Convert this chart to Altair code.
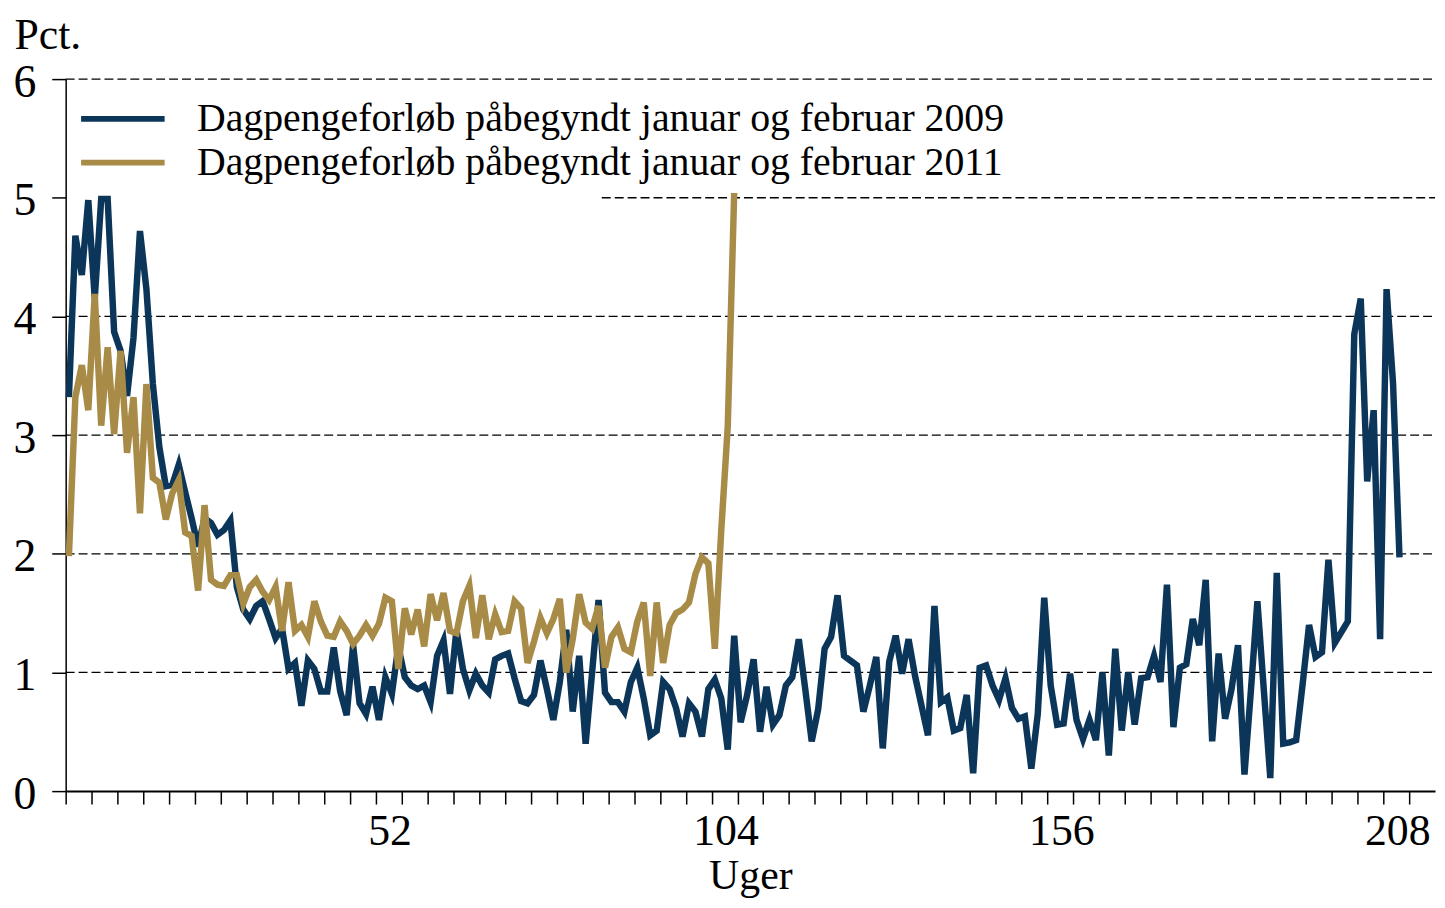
import altair as alt
import pandas as pd

# ---- data (weekly percentages) ----
pct_2009 = [
    3.32, 4.68, 4.35, 4.98, 4.15, 4.99, 4.99, 3.87, 3.71, 3.33,
    3.82, 4.72, 4.23, 3.43, 2.90, 2.57, 2.58, 2.75, 2.52, 2.30,
    2.06, 2.30, 2.26, 2.16, 2.20, 2.28, 1.72, 1.53, 1.45, 1.56,
    1.60, 1.45, 1.29, 1.37, 1.03, 1.08, 0.72, 1.10, 1.03, 0.84,
    0.84, 1.21, 0.84, 0.64, 1.23, 0.74, 0.65, 0.88, 0.60, 0.96,
    0.82, 1.22, 0.96, 0.89, 0.86, 0.89, 0.75, 1.14, 1.27, 0.82,
    1.36, 1.03, 0.85, 0.99, 0.89, 0.83, 1.11, 1.14, 1.16, 0.95,
    0.76, 0.74, 0.81, 1.10, 0.86, 0.60, 0.92, 1.36, 0.67, 1.14,
    0.40, 1.00, 1.61, 0.83, 0.75, 0.75, 0.67, 0.92, 1.04, 0.78,
    0.47, 0.51, 0.92, 0.86, 0.70, 0.46, 0.74, 0.67, 0.46, 0.86,
    0.94, 0.78, 0.35, 1.31, 0.58, 0.81, 1.11, 0.50, 0.88, 0.56,
    0.64, 0.89, 0.96, 1.28, 0.86, 0.42, 0.69, 1.20, 1.30, 1.65,
    1.14, 1.10, 1.06, 0.67, 0.89, 1.13, 0.36, 1.09, 1.31, 0.99,
    1.28, 0.97, 0.72, 0.47, 1.56, 0.75, 0.79, 0.51, 0.53, 0.81,
    0.15, 1.04, 1.06, 0.89, 0.77, 0.95, 0.70, 0.61, 0.63, 0.19,
    0.65, 1.63, 0.89, 0.56, 0.57, 0.99, 0.60, 0.44, 0.60, 0.43,
    1.00, 0.30, 1.20, 0.51, 1.00, 0.56, 0.95, 0.96, 1.14, 0.92,
    1.74, 0.54, 1.04, 1.07, 1.45, 1.23, 1.78, 0.42, 1.16, 0.61,
    0.86, 1.23, 0.14, 0.85, 1.60, 0.85, 0.11, 1.84, 0.40, 0.41,
    0.43, 0.90, 1.40, 1.13, 1.17, 1.95, 1.25, 1.34, 1.43, 3.85,
    4.15, 2.61, 3.21, 1.28, 4.23, 3.44, 1.97,
]
pct_2011 = [
    1.98, 3.32, 3.59, 3.21, 4.19, 3.08, 3.74, 3.01, 3.71, 2.85,
    3.32, 2.34, 3.43, 2.64, 2.60, 2.29, 2.51, 2.62, 2.18, 2.15,
    1.69, 2.41, 1.78, 1.74, 1.73, 1.82, 1.82, 1.58, 1.72, 1.78,
    1.68, 1.61, 1.72, 1.35, 1.76, 1.35, 1.40, 1.30, 1.60, 1.43,
    1.31, 1.30, 1.43, 1.35, 1.24, 1.31, 1.40, 1.31, 1.41, 1.63,
    1.60, 1.03, 1.54, 1.32, 1.53, 1.22, 1.66, 1.44, 1.67, 1.35,
    1.33, 1.60, 1.73, 1.29, 1.65, 1.28, 1.49, 1.34, 1.35, 1.60,
    1.54, 1.08, 1.26, 1.46, 1.33, 1.45, 1.62, 1.00, 1.28, 1.66,
    1.42, 1.37, 1.56, 1.04, 1.30, 1.38, 1.20, 1.17, 1.43, 1.59,
    0.97, 1.59, 1.08, 1.40, 1.50, 1.53, 1.59, 1.83, 1.97, 1.92,
    1.20, 2.20, 3.07, 5.04,
]
weeks_2009 = list(range(1, len(pct_2009) + 1))
weeks_2011 = list(range(1, len(pct_2011) + 1))

label_2009 = "Dagpengeforløb påbegyndt januar og februar 2009"
label_2011 = "Dagpengeforløb påbegyndt januar og februar 2011"
series_labels = [label_2009, label_2011]
series_colors = ["#0B365A", "#A88B47"]

x_label_weeks = [52, 104, 156, 208]
y_ticks = [0, 1, 2, 3, 4, 5, 6]
grid_y = [1, 2, 3, 4, 5, 6]
grid_from = [0.5, 0.5, 0.5, 0.5, 83.5, 0.5]
x_domain = [0.5, 212.5]
x_tick_values = [0.5 + 4 * k for k in range(53)]

FONT = "Liberation Serif"

df = pd.DataFrame({
    "uge": weeks_2009 + weeks_2011,
    "pct": pct_2009 + pct_2011,
    "serie": [label_2009] * len(pct_2009) + [label_2011] * len(pct_2011),
})
grid_df = pd.DataFrame({"uge": grid_from, "uge2": [x_domain[1]] * len(grid_y), "pct": grid_y})

label_positions = ",".join(str(w + 0.5) for w in x_label_weeks)
label_expr = f"indexof([{label_positions}], datum.value) >= 0 ? format(datum.value - 0.5, 'd') : ''"

x_scale = alt.Scale(domain=x_domain, nice=False, zero=False)
y_scale = alt.Scale(domain=[0, 6], nice=False, zero=True)

x_axis = alt.Axis(
    values=x_tick_values,
    labelExpr=label_expr,
    labelOffset=-12,
    labelOverlap=False,
    labelFlush=False,
    labelFont=FONT,
    labelFontSize=44,
    labelColor="black",
    labelPadding=6,
    tickSize=13,
    tickWidth=1.5,
    tickColor="black",
    domainColor="black",
    domainWidth=2,
    grid=False,
    titleFont=FONT,
    titleFontSize=42,
    titleFontWeight="normal",
    titleColor="black",
    titleBaseline="alphabetic",
    titleY=98,
)
y_axis = alt.Axis(
    values=y_ticks,
    format="d",
    labelFont=FONT,
    labelFontSize=46,
    labelColor="black",
    labelPadding=16,
    labelOffset=3,
    tickSize=14,
    tickWidth=1.5,
    tickColor="black",
    domainColor="black",
    domainWidth=1.5,
    grid=False,
    titleFont=FONT,
    titleFontSize=44,
    titleFontWeight="normal",
    titleColor="black",
    titleAngle=0,
    titleAlign="left",
    titleBaseline="alphabetic",
    titleX=-52,
    titleY=-31,
)

grid = alt.Chart(grid_df).mark_rule(
    color="black", strokeWidth=1.3, strokeDash=[9, 4]
).encode(
    x=alt.X("uge:Q", scale=x_scale, axis=x_axis, title="Uger"),
    x2="uge2:Q",
    y=alt.Y("pct:Q", scale=y_scale, axis=y_axis, title="Pct."),
)

lines = alt.Chart(df).mark_line(strokeWidth=6.5).encode(
    x=alt.X("uge:Q", scale=x_scale, axis=x_axis, title="Uger"),
    y=alt.Y("pct:Q", scale=y_scale, axis=y_axis, title="Pct."),
    color=alt.Color(
        "serie:N",
        sort=series_labels,
        scale=alt.Scale(domain=series_labels, range=series_colors),
        legend=alt.Legend(
            title=None,
            orient="none",
            legendX=37.5,
            legendY=20,
            direction="vertical",
            symbolType="M-2.8,0H2.8",
            symbolSize=900,
            symbolStrokeWidth=6,
            labelFont=FONT,
            labelFontSize=40,
            labelColor="black",
            labelLimit=2000,
            labelOffset=54.5,
            rowPadding=4,
        ),
    ),
    order=alt.Order("uge:Q"),
)

chart = alt.layer(grid, lines).properties(
    width=1377,
    height=716,
    autosize=alt.AutoSizeParams(type="none"),
    padding={"left": 58, "top": 69, "right": 2, "bottom": 107},
    background="white",
).configure_view(stroke=None)

chart.save("out.html", embed_options={"renderer": "svg", "actions": False})
